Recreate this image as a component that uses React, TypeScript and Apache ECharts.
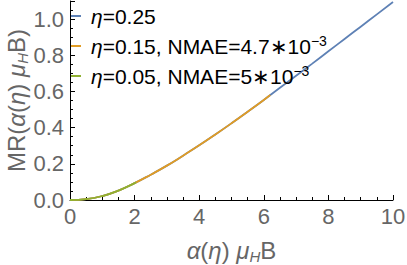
import React, { useEffect, useRef } from "react";
import * as echarts from "echarts";

// Data
const xEta025 = [0, 0.5, 1, 1.5, 2, 2.5, 3, 3.5, 4, 4.5, 5, 5.5, 6, 6.5, 7, 7.5, 8, 8.5, 9, 9.5, 10];
const mrEta025 = [0, 0.005, 0.022, 0.052, 0.093, 0.14, 0.19, 0.245, 0.302, 0.362, 0.424, 0.488, 0.553, 0.62, 0.687, 0.754, 0.822, 0.89, 0.958, 1.026, 1.094];

const xEta015 = [0, 0.5, 1, 1.5, 2, 2.5, 3, 3.5, 4, 4.5, 5, 5.5, 6, 6.2];
const mrEta015 = [0, 0.005, 0.022, 0.052, 0.093, 0.14, 0.19, 0.245, 0.302, 0.362, 0.424, 0.488, 0.553, 0.58];

const xEta005 = [0, 0.5, 1, 1.5, 2, 2.05];
const mrEta005 = [0, 0.005, 0.022, 0.052, 0.093, 0.098];

const seriesNames = ["eta025", "eta015", "eta005"];
const legendLabels = [
  "{i|η}=0.25",
  "{i|η}=0.15, NMAE=4.7∗10{sup|−3}",
  "{i|η}=0.05, NMAE=5∗10{sup|−3}",
];
const seriesColors = ["#5E81B5", "#E19C24", "#8FB032"];

const xTicks = { min: 0, max: 10, interval: 2 };
const yTicks = { min: 0, max: 1.1, interval: 0.2 };

const FONT = "'Liberation Sans', Arial, sans-serif";

function pairs(xs: number[], ys: number[]) {
  return xs.map((x, i) => [x, ys[i]]);
}

export default function App() {
  const ref = useRef<HTMLDivElement>(null);
  useEffect(() => {
    if (!ref.current) return;
    const chart = echarts.init(ref.current, undefined, { renderer: "svg" });
    const nameRich = {
      n: { fontSize: 24, lineHeight: 28, color: "#666", fontFamily: FONT },
      i: { fontSize: 24, lineHeight: 28, color: "#666", fontStyle: "italic", fontFamily: FONT },
      sub: { fontSize: 15, lineHeight: 15, color: "#666", fontStyle: "italic", verticalAlign: "bottom", fontFamily: FONT },
    };
    const legendRich = {
      i: { fontSize: 21, lineHeight: 24, fontStyle: "italic", color: "#000", fontFamily: FONT },
      sup: { fontSize: 14, lineHeight: 14, verticalAlign: "top", color: "#000", fontFamily: FONT },
    };
    const data = [
      pairs(xEta025, mrEta025),
      pairs(xEta015, mrEta015),
      pairs(xEta005, mrEta005),
    ];
    const legendTops = [4, 34, 64];
    chart.setOption({
      animation: false,
      textStyle: { fontFamily: FONT },
      grid: { left: 70, right: 14, top: 1, bottom: 65, containLabel: false, outerBoundsMode: "none" },
      xAxis: {
        type: "value",
        min: xTicks.min,
        max: xTicks.max,
        interval: xTicks.interval,
        name: "{i|α}({i|η}) {i|μ}{sub|H}{n|B}",
        nameLocation: "middle",
        nameGap: 36,
        nameMoveOverlap: false,
        nameTextStyle: { rich: nameRich, fontSize: 24, color: "#666", lineHeight: 28 },
        axisLine: { show: true, lineStyle: { color: "#000", width: 1 } },
        axisTick: { show: true, inside: true, length: 5, lineStyle: { color: "#000" } },
        minorTick: { show: true, splitNumber: 4, length: 3, lineStyle: { color: "#000" } },
        axisLabel: { color: "#666", fontSize: 22, margin: 5, formatter: (v: number) => String(v) },
        splitLine: { show: false },
      },
      yAxis: {
        type: "value",
        min: yTicks.min,
        max: yTicks.max,
        interval: yTicks.interval,
        name: "{n|MR(}{i|α}({i|η}) {i|μ}{sub|H}{n|B)}",
        nameLocation: "middle",
        nameRotate: 90,
        nameGap: 40,
        nameMoveOverlap: false,
        nameTextStyle: { rich: nameRich, fontSize: 24, color: "#666", lineHeight: 28 },
        axisLine: { show: true, lineStyle: { color: "#000", width: 1 } },
        axisTick: { show: true, inside: true, length: 5, lineStyle: { color: "#000" } },
        minorTick: { show: true, splitNumber: 4, length: 3, lineStyle: { color: "#000" } },
        axisLabel: {
          color: "#666",
          fontSize: 22,
          margin: 6,
          showMaxLabel: false,
          formatter: (v: number) => v.toFixed(1),
        },
        splitLine: { show: false },
      },
      legend: seriesNames.map((name, k) => ({
        data: [name],
        left: 71,
        top: legendTops[k],
        padding: 0,
        icon: "rect",
        itemWidth: 10,
        itemHeight: 2,
        itemGap: 0,
        selectedMode: false,
        formatter: () => legendLabels[k],
        textStyle: { fontSize: 21, color: "#000", lineHeight: 24, padding: [0, 0, 0, 5], rich: legendRich },
      })),
      series: seriesNames.map((name, k) => ({
        name,
        type: "line",
        data: data[k],
        smooth: true,
        showSymbol: false,
        symbol: "none",
        lineStyle: { color: seriesColors[k], width: 1.8 },
        itemStyle: { color: seriesColors[k] },
        z: 2 + k,
      })),
    });
    return () => chart.dispose();
  }, []);
  return <div ref={ref} style={{ width: 407, height: 265, position: "absolute", left: 0, top: 0 }} />;
}
